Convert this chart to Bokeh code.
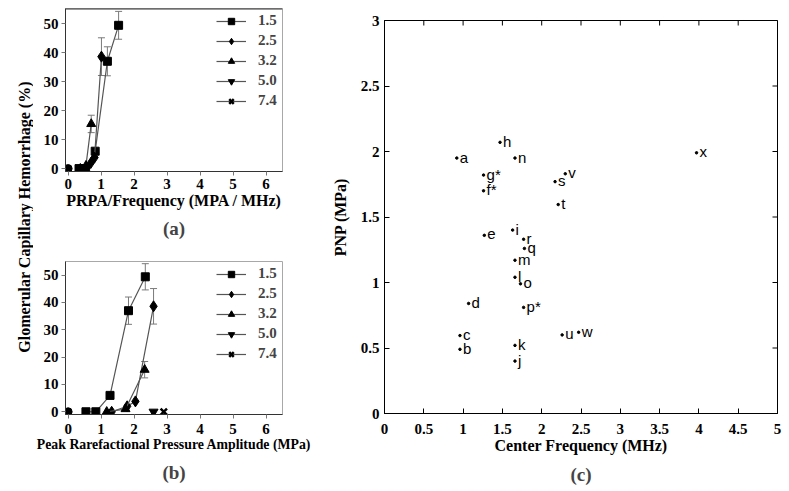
import numpy as np
from bokeh.plotting import figure
from bokeh.models import (ColumnDataSource, Whisker, TeeHead, Legend, LegendItem,
                          Title, FixedTicker, NumeralTickFormatter, Span, Range1d)
from bokeh.layouts import row, column
from bokeh.core.properties import value
from bokeh.embed import file_html
from bokeh.resources import INLINE

# ---------------- data ----------------
freq_labels = ["1.5", "2.5", "3.2", "5.0", "7.4"]

# hemorrhage (%) and error (+/-) per frequency series
hem_15 = [0, 0, 6, 37, 49.4]
err_15 = [0, 0, 0, 5, 4.8]
hem_25 = [0, 2, 3.8, 38.6]
err_25 = [0, 0, 0, 6.5]
hem_32 = [0, 1, 15.4]
err_32 = [0, 0, 3]
hem_50 = [0]
err_50 = [0]
hem_74 = [0]
err_74 = [0]

# panel (a): PRPA / frequency (MPa / MHz)
mi_15 = [0.33, 0.53, 0.82, 1.19, 1.53]
mi_25 = [0.53, 0.69, 0.80, 1.01]
mi_32 = [0.37, 0.54, 0.70]
mi_50 = [0.52]
mi_74 = [0.39]

# panel (b): peak rarefactional pressure amplitude (MPa)
prpa_15 = [0.54, 0.84, 1.27, 1.83, 2.34]
prpa_25 = [1.32, 1.79, 2.04, 2.59]
prpa_32 = [1.17, 1.74, 2.32]
prpa_50 = [2.59]
prpa_74 = [2.90]

sham_x = [0]
sham_y = [0]

ab_x_ticks = [0, 1, 2, 3, 4, 5, 6]
ab_y_ticks = [0, 10, 20, 30, 40, 50]

# panel (c): center frequency vs PNP
c_labels = ["a", "b", "c", "d", "e", "f*", "g*", "h", "i", "j", "k", "l",
            "m", "n", "o", "p*", "q", "r", "s", "t", "u", "v", "w", "x"]
c_freq = [0.92, 0.96, 0.96, 1.07, 1.27, 1.26, 1.26, 1.47, 1.63, 1.66, 1.66, 1.66,
          1.66, 1.66, 1.73, 1.77, 1.78, 1.77, 2.17, 2.21, 2.26, 2.30, 2.47, 3.97]
c_pnp = [1.95, 0.49, 0.595, 0.84, 1.36, 1.70, 1.82, 2.07, 1.40, 0.40, 0.52, 1.04,
         1.17, 1.95, 0.99, 0.81, 1.26, 1.33, 1.77, 1.595, 0.60, 1.83, 0.62, 1.99]
c_x_ticks = [0, 0.5, 1, 1.5, 2, 2.5, 3, 3.5, 4, 4.5, 5]
c_y_ticks = [0, 0.5, 1, 1.5, 2, 2.5, 3]

# ---------------- style ----------------
SERIF = "Liberation Serif"
SANS = "Liberation Sans"
LINE_C = "#555555"
ERR_C = "#7a7a7a"
MARKERS = ["square", "diamond", "triangle", "inverted_triangle", "x"]
MSIZE = {"square": 8, "diamond": 11, "triangle": 9, "inverted_triangle": 9, "x": 9}


def style_axis(ax, tick_size="15px", label_size="16px"):
    ax.major_label_text_font = SERIF
    ax.major_label_text_font_style = "bold"
    ax.major_label_text_font_size = tick_size
    ax.major_label_text_color = "black"
    ax.axis_label_text_font = SERIF
    ax.axis_label_text_font_style = "bold"
    ax.axis_label_text_font_size = label_size
    ax.axis_label_text_color = "black"
    ax.minor_tick_line_color = None


def make_ab(xs_list, width, height, mb, xlabel, xlabel_size, x_standoff, tag, tag_standoff,
            y_end, top_bar=False):
    p = figure(width=width, height=height, output_backend="svg", toolbar_location=None,
               x_range=Range1d(-0.08, 6.5), y_range=Range1d(-1, y_end),
               min_border_left=mb[0], min_border_right=mb[1],
               min_border_top=mb[2], min_border_bottom=mb[3])
    p.border_fill_color = None
    p.outline_line_color = "#a8a8a8"
    p.grid.visible = False
    for ax in (p.xaxis[0], p.yaxis[0]):
        style_axis(ax, label_size=xlabel_size)
        ax.major_tick_out = 4
        ax.major_tick_in = 0
        ax.major_tick_line_color = "#777777"
        ax.axis_line_color = "#333333"
        ax.major_label_standoff = 3
    p.xaxis.major_label_standoff = x_standoff
    p.xaxis.ticker = FixedTicker(ticks=ab_x_ticks)
    p.yaxis.ticker = FixedTicker(ticks=ab_y_ticks)
    p.xaxis.axis_label = xlabel
    p.xaxis.axis_label_standoff = 0

    hem_list = [hem_15, hem_25, hem_32, hem_50, hem_74]
    err_list = [err_15, err_25, err_32, err_50, err_74]
    items = []
    for xs, ys, es, mk, lab in zip(xs_list, hem_list, err_list, MARKERS, freq_labels):
        idx = [i for i, e in enumerate(es) if e > 0]
        if idx:
            wsrc = ColumnDataSource(dict(base=[xs[i] for i in idx],
                                         upper=[ys[i] + es[i] for i in idx],
                                         lower=[ys[i] - es[i] for i in idx]))
            wk = Whisker(base="base", upper="upper", lower="lower", source=wsrc,
                         line_color=ERR_C, line_width=1,
                         upper_head=TeeHead(size=7, line_color=ERR_C, line_width=1),
                         lower_head=TeeHead(size=7, line_color=ERR_C, line_width=1))
            p.add_layout(wk)
        src = ColumnDataSource(dict(x=xs, y=ys))
        lr = p.line("x", "y", source=src, line_color=LINE_C, line_width=1.2)
        sr = p.scatter("x", "y", source=src, marker=mk, size=MSIZE[mk],
                       fill_color="black", line_color="black",
                       line_width=2.5 if mk == "x" else 1)
        items.append(LegendItem(label=lab, renderers=[lr, sr]))
    p.scatter(sham_x, sham_y, marker="circle", size=8, color="black")

    leg = Legend(items=items, location="top_right", glyph_width=30, glyph_height=16,
                 label_height=16, label_width=20, spacing=3, label_standoff=12,
                 padding=8, margin=4, border_line_color=None, background_fill_alpha=0,
                 label_text_font=SERIF, label_text_font_style="bold",
                 label_text_font_size="15px")
    p.add_layout(leg)
    if top_bar:
        p.add_layout(Span(location=y_end, dimension="width", line_color="#333333",
                          line_width=2))
    p.add_layout(Title(text=tag, align="center", text_font=SERIF, text_font_style="bold",
                       text_font_size="19px", standoff=tag_standoff), "below")
    return p


TOTAL_H = 490

# ---------------- shared y label (an axis label with no ticks) ----------------
labfig = figure(width=33, height=TOTAL_H, x_range=Range1d(0, 1), y_range=Range1d(0, 1),
                x_axis_location=None, y_axis_location="left",
                min_border_left=32, min_border_right=0, min_border_top=0,
                min_border_bottom=32, output_backend="svg", toolbar_location=None)
labfig.outline_line_color = None
labfig.border_fill_color = None
labfig.grid.visible = False
lab_ax = labfig.yaxis[0]
style_axis(lab_ax)
lab_ax.ticker = FixedTicker(ticks=[])
lab_ax.axis_line_color = None
lab_ax.major_tick_line_color = None
lab_ax.major_tick_out = 0
lab_ax.major_label_standoff = 0
lab_ax.axis_label = "Glomerular Capillary Hemorrhage (%)"
lab_ax.axis_label_standoff = 0

# ---------------- panels (a) and (b) ----------------
COL_W = 295
HA = 246
fa = make_ab([mi_15, mi_25, mi_32, mi_50, mi_74], COL_W, HA, (24, 40, 8, 75),
             "PRPA/Frequency (MPA / MHz)", "16px", 3, "(a)", 9, 55.2, top_bar=True)
fb = make_ab([prpa_15, prpa_25, prpa_32, prpa_50, prpa_74], COL_W, TOTAL_H - HA,
             (32, 46, 15, 76), "Peak Rarefactional Pressure Amplitude (MPa)", "13.8px", 5,
             "(b)", 11, 55.0)

# ---------------- panel (c) ----------------
fc = figure(width=454, height=TOTAL_H, x_range=Range1d(0, 5), y_range=Range1d(0, 3),
            output_backend="svg", toolbar_location=None,
            min_border_left=51, min_border_right=5, min_border_top=20, min_border_bottom=77)
fc.border_fill_color = None
fc.grid.visible = False
fc.outline_line_color = "black"
for ax in (fc.xaxis[0], fc.yaxis[0]):
    style_axis(ax)
    ax.major_tick_in = 5
    ax.major_tick_out = 0
    ax.major_tick_line_color = "black"
    ax.axis_line_color = "black"
    ax.formatter = NumeralTickFormatter(format="0.[0]")
fc.xaxis.ticker = FixedTicker(ticks=c_x_ticks)
fc.yaxis.ticker = FixedTicker(ticks=c_y_ticks)
fc.xaxis.major_label_standoff = 10
fc.yaxis.major_label_standoff = 5
fc.xaxis.axis_label = "Center Frequency (MHz)"
fc.xaxis.axis_label_standoff = 0
fc.yaxis.axis_label = "PNP (MPa)"
fc.yaxis.axis_label_standoff = 9

# inward ticks on the right and top edges (half of a dash is clipped by the frame)
x_end = fc.x_range.end
y_end = fc.y_range.end
fc.scatter([x_end] * len(c_y_ticks), c_y_ticks, marker="dash", size=10,
           line_color="black", line_width=1)
fc.scatter(c_x_ticks, [y_end] * len(c_x_ticks), marker="dash", angle=np.pi / 2, size=10,
           line_color="black", line_width=1)

csrc = ColumnDataSource(dict(x=c_freq, y=c_pnp, t=c_labels))
fc.scatter("x", "y", source=csrc, marker="circle", size=2.5, color="black")
fc.text("x", "y", text="t", source=csrc, x_offset=3, y_offset=-1,
        text_font=value(SANS), text_font_size=value("15px"),
        text_baseline="alphabetic", text_align="left", text_color="black")
fc.add_layout(Title(text="(c)", align="center", text_font=SERIF, text_font_style="bold",
                    text_font_size="19px", standoff=11), "below")

layout = row(labfig, column(fa, fb), fc)

open("out.html", "w").write(file_html(layout, INLINE))
